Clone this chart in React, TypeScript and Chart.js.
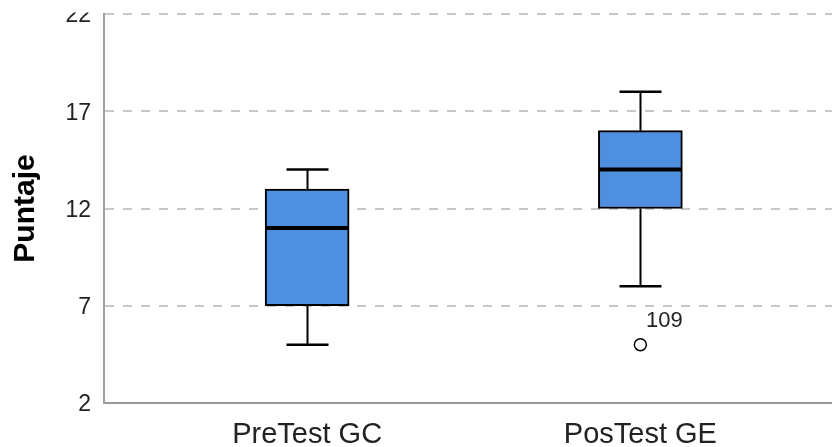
import React, { useEffect, useRef } from 'react';
import { Chart, registerables } from 'chart.js';

Chart.register(...registerables);

// ---- data ----
const categories = ['PreTest GC', 'PosTest GE'];
const categoryPositions = [1, 2];
const whiskerMin = [5, 8];
const q1 = [7, 12];
const medians = [11, 14];
const q3 = [13, 16];
const whiskerMax = [14, 18];
const outlierCategory = [2];
const outlierValues = [5];
const outlierLabels = ['109'];
const yTicks = [2, 7, 12, 17, 22];

const FONT = '"Liberation Sans", Arial, Helvetica, sans-serif';

const boxPlugin = {
  id: 'boxWhiskers',
  afterDatasetsDraw(chart: any) {
    const { ctx, scales } = chart;
    const x = scales.x;
    const y = scales.y;
    const meta = chart.getDatasetMeta(0);
    ctx.save();
    ctx.strokeStyle = '#000';
    categoryPositions.forEach((pos, i) => {
      const cx = Math.round(x.getPixelForValue(pos)) + 0.5;
      const bar = meta.data[i];
      const half = bar.width / 2;
      const capHalf = bar.width / 4;
      const yMax = y.getPixelForValue(whiskerMax[i]);
      const yMin = y.getPixelForValue(whiskerMin[i]);
      const yQ1 = y.getPixelForValue(q1[i]);
      const yQ3 = y.getPixelForValue(q3[i]);
      const yMed = y.getPixelForValue(medians[i]);
      ctx.lineWidth = 2;
      ctx.beginPath();
      ctx.moveTo(cx, yQ3);
      ctx.lineTo(cx, yMax);
      ctx.moveTo(cx, yQ1);
      ctx.lineTo(cx, yMin);
      ctx.stroke();
      ctx.lineWidth = 2.5;
      ctx.beginPath();
      ctx.moveTo(cx - capHalf, yMax);
      ctx.lineTo(cx + capHalf, yMax);
      ctx.moveTo(cx - capHalf, yMin);
      ctx.lineTo(cx + capHalf, yMin);
      ctx.stroke();
      ctx.lineWidth = 4;
      ctx.beginPath();
      ctx.moveTo(bar.x - half + 1, yMed);
      ctx.lineTo(bar.x + half - 1, yMed);
      ctx.stroke();
    });
    const om = chart.getDatasetMeta(1);
    ctx.fillStyle = '#222';
    ctx.font = '22px ' + FONT;
    ctx.textAlign = 'center';
    ctx.textBaseline = 'middle';
    om.data.forEach((pt: any, j: number) => {
      ctx.fillText(outlierLabels[j], pt.x + 24, pt.y - 24);
    });
    ctx.restore();
  },
  afterDraw(chart: any) {
    const { ctx, chartArea } = chart;
    ctx.save();
    ctx.fillStyle = '#fff';
    ctx.fillRect(0, 0, chart.width, chartArea.top - 1.5);
    ctx.restore();
  },
};

export default function App() {
  const ref = useRef<HTMLCanvasElement>(null);
  useEffect(() => {
    if (!ref.current) return;
    const chart = new Chart(ref.current, {
      type: 'bar',
      data: {
        datasets: [
          {
            type: 'bar',
            data: categoryPositions.map((p, i) => ({ x: p, y: [q1[i], q3[i]] })) as any,
            backgroundColor: '#4f8fe0',
            borderColor: '#000',
            borderWidth: 2,
            borderSkipped: false,
            barThickness: 84,
          },
          {
            type: 'scatter',
            data: outlierCategory.map((c, i) => ({ x: c, y: outlierValues[i] })),
            pointStyle: 'circle',
            pointRadius: 6,
            pointBackgroundColor: '#fff',
            pointBorderColor: '#000',
            pointBorderWidth: 1.5,
            showLine: false,
          } as any,
        ],
      },
      options: {
        responsive: false,
        animation: false,
        devicePixelRatio: 1,
        layout: { padding: { top: 0, left: 0, right: 0, bottom: 0 } },
        plugins: {
          legend: { display: false },
          tooltip: { enabled: false },
        },
        scales: {
          x: {
            type: 'linear',
            offset: false,
            bounds: 'ticks',
            min: 0.3904,
            max: 2.5766,
            afterBuildTicks: (s: any) => {
              s.ticks = categoryPositions.map((v) => ({ value: v }));
            },
            ticks: {
              callback: (v: any) => {
                const idx = categoryPositions.indexOf(Number(v));
                return idx >= 0 ? categories[idx] : '';
              },
              font: { size: 29, family: FONT },
              color: '#222',
              padding: 15,
              autoSkip: false,
              maxRotation: 0,
            },
            grid: { display: false, drawTicks: false, offset: false },
            border: { display: true, color: '#999', width: 2 },
            afterFit: (s: any) => {
              s.height = 44;
              s.paddingLeft = 0;
              s.paddingRight = 0;
            },
          },
          y: {
            min: 2,
            max: 22,
            afterBuildTicks: (s: any) => {
              s.ticks = yTicks.map((v) => ({ value: v }));
            },
            ticks: {
              font: { size: 23, family: FONT },
              color: '#222',
              padding: 13,
              labelOffset: 2,
            },
            grid: {
              color: (c: any) => (c.tick && c.tick.value === 2 ? 'rgba(0,0,0,0)' : '#c8c8c8'),
              lineWidth: 2,
              drawTicks: false,
            },
            border: { display: true, color: '#a0a0a0', width: 2, dash: [9, 9] },
            title: {
              display: true,
              text: 'Puntaje',
              font: { size: 30, weight: 'bold', family: FONT },
              color: '#000',
              padding: { top: 8, bottom: 0 },
            },
            afterFit: (s: any) => {
              s.width = 104;
              s.paddingTop = 14;
              s.paddingBottom = 0;
            },
          },
        },
      },
      plugins: [boxPlugin],
    } as any);
    return () => chart.destroy();
  }, []);
  return (
    <div style={{ position: 'fixed', top: 0, left: 0, width: 832, height: 447, background: '#fff', overflow: 'hidden' }}>
      <canvas ref={ref} width={840} height={447} style={{ display: 'block' }} />
    </div>
  );
}
